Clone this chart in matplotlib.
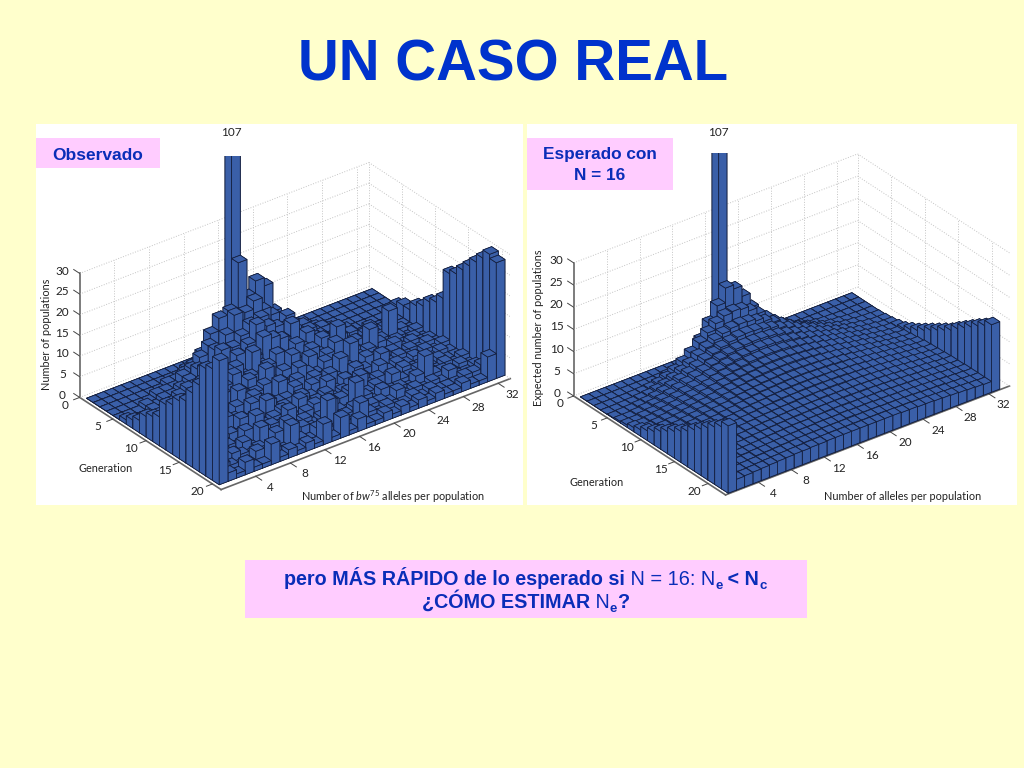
import matplotlib
matplotlib.use('Agg')
import matplotlib.pyplot as plt
from matplotlib.patches import Rectangle
from mpl_toolkits.mplot3d import proj3d

plt.rcParams['font.family'] = ['Lato', 'DejaVu Sans']
plt.rcParams['mathtext.fontset'] = 'custom'
plt.rcParams['mathtext.rm'] = 'Lato'
plt.rcParams['mathtext.it'] = 'Lato:italic'

# number of populations per allele count (columns 0-32), one row per generation
observed = [
    [0, 0, 0, 0, 0, 0, 0, 0, 0, 0, 0, 0, 0, 0, 0, 0, 107, 0, 0, 0, 0, 0, 0, 0, 0, 0, 0, 0, 0, 0, 0, 0, 0],
    [0, 0, 0, 0, 0, 0, 0, 0, 0, 0, 1, 1, 3, 6, 8, 11, 22, 13, 16, 14, 7, 3, 2, 0, 0, 0, 0, 0, 0, 0, 0, 0, 0],
    [0, 0, 0, 0, 0, 0, 0, 1, 1, 2, 3, 5, 9, 12, 9, 8, 11, 13, 10, 8, 6, 4, 3, 1, 1, 0, 0, 0, 0, 0, 0, 0, 0],
    [0, 0, 0, 0, 0, 1, 1, 1, 3, 4, 6, 8, 5, 9, 13, 7, 6, 10, 7, 5, 8, 5, 3, 2, 2, 1, 0, 0, 0, 0, 0, 0, 0],
    [0, 0, 0, 1, 0, 1, 1, 2, 3, 5, 4, 8, 6, 7, 9, 11, 6, 9, 8, 7, 5, 6, 3, 2, 2, 1, 1, 0, 0, 0, 0, 0, 2],
    [1, 0, 0, 1, 0, 1, 2, 3, 2, 6, 5, 9, 4, 6, 8, 12, 5, 7, 6, 9, 4, 6, 3, 2, 2, 2, 1, 0, 1, 0, 0, 0, 3],
    [2, 0, 1, 0, 1, 2, 2, 3, 5, 3, 7, 4, 8, 5, 6, 10, 9, 8, 5, 3, 7, 5, 4, 3, 2, 3, 1, 1, 0, 1, 0, 0, 3],
    [3, 1, 0, 1, 2, 1, 3, 2, 4, 6, 3, 7, 4, 9, 5, 3, 6, 4, 7, 5, 3, 6, 4, 5, 2, 2, 3, 1, 1, 0, 1, 0, 5],
    [5, 1, 1, 2, 1, 3, 2, 4, 3, 5, 7, 3, 5, 4, 6, 8, 3, 5, 3, 6, 4, 3, 9, 2, 4, 3, 1, 2, 8, 1, 0, 1, 6],
    [6, 2, 1, 1, 3, 2, 4, 2, 5, 3, 4, 6, 3, 7, 3, 5, 8, 2, 6, 3, 5, 7, 2, 4, 2, 7, 3, 1, 2, 0, 1, 0, 8],
    [7, 3, 2, 1, 2, 4, 1, 3, 2, 6, 3, 4, 5, 2, 4, 3, 6, 4, 3, 5, 3, 2, 7, 3, 4, 2, 1, 3, 1, 2, 1, 1, 9],
    [11, 2, 3, 1, 2, 3, 3, 1, 4, 2, 5, 3, 2, 6, 3, 5, 2, 4, 3, 2, 6, 3, 2, 4, 3, 2, 3, 1, 2, 1, 2, 1, 11],
    [12, 2, 1, 3, 2, 1, 4, 3, 2, 5, 2, 4, 3, 3, 5, 2, 4, 2, 5, 3, 2, 4, 3, 1, 5, 2, 3, 2, 1, 2, 1, 2, 18],
    [14, 3, 2, 1, 3, 2, 1, 4, 3, 2, 6, 2, 3, 1, 4, 3, 2, 5, 2, 4, 2, 3, 1, 4, 2, 3, 2, 3, 1, 1, 2, 1, 19],
    [15, 3, 1, 2, 2, 3, 2, 1, 5, 2, 3, 4, 2, 5, 1, 3, 4, 2, 3, 1, 5, 2, 3, 2, 1, 3, 2, 2, 1, 2, 1, 1, 21],
    [18, 2, 3, 1, 2, 1, 4, 2, 1, 3, 2, 5, 1, 3, 4, 2, 1, 3, 4, 2, 2, 3, 1, 4, 2, 2, 3, 2, 1, 2, 1, 2, 23],
    [21, 3, 2, 2, 1, 3, 1, 5, 2, 1, 4, 2, 3, 1, 2, 5, 2, 1, 7, 3, 1, 3, 2, 2, 1, 3, 7, 2, 2, 1, 2, 1, 25],
    [26, 2, 1, 3, 2, 1, 2, 1, 4, 2, 1, 3, 2, 1, 7, 1, 2, 3, 1, 2, 2, 1, 3, 1, 2, 1, 2, 1, 3, 1, 1, 2, 27],
    [27, 3, 2, 1, 1, 3, 1, 2, 1, 6, 2, 1, 3, 2, 1, 2, 1, 5, 2, 1, 2, 1, 1, 2, 1, 2, 1, 1, 1, 2, 2, 3, 29],
    [30, 2, 1, 3, 1, 1, 5, 1, 2, 1, 2, 1, 5, 1, 5, 1, 3, 1, 1, 2, 1, 2, 1, 2, 1, 2, 1, 1, 2, 1, 1, 6, 28],
]

expected = [
    [0, 0, 0, 0, 0, 0, 0, 0, 0, 0, 0, 0, 0, 0, 0, 0, 107, 0, 0, 0, 0, 0, 0, 0, 0, 0, 0, 0, 0, 0, 0, 0, 0],
    [0, 0, 0, 0, 0, 0, 0, 0, .1, .3, .7, 1.6, 3.1, 5.5, 8.6, 11.8, 15.1, 14.2, 11.8, 8.6, 5.5, 3.1, 1.6, .7, .3, .1, 0, 0, 0, 0, 0, 0, 0],
    [0, 0, 0, 0, .1, .2, .4, .8, 1.4, 2.3, 3.5, 4.9, 6.5, 8.1, 9.5, 10.5, 10.8, 10.5, 9.5, 8.1, 6.5, 4.9, 3.5, 2.3, 1.4, .8, .4, .2, .1, 0, 0, 0, 0],
    [0, 0, .1, .2, .4, .6, 1.0, 1.5, 2.2, 3.1, 4.1, 5.3, 6.4, 7.4, 8.2, 8.7, 8.9, 8.7, 8.2, 7.4, 6.4, 5.3, 4.1, 3.1, 2.2, 1.5, 1.0, .6, .4, .2, .1, 0, 0],
    [.1, .2, .3, .5, .7, 1.1, 1.6, 2.2, 2.9, 3.7, 4.5, 5.4, 6.1, 6.8, 7.3, 7.7, 7.8, 7.7, 7.3, 6.8, 6.1, 5.4, 4.5, 3.7, 2.9, 2.2, 1.6, 1.1, .7, .5, .3, .2, .1],
    [.3, .3, .5, .8, 1.1, 1.5, 2.0, 2.6, 3.2, 3.9, 4.5, 5.2, 5.8, 6.3, 6.7, 6.9, 7.0, 6.9, 6.7, 6.3, 5.8, 5.2, 4.5, 3.9, 3.2, 2.6, 2.0, 1.5, 1.1, .8, .5, .3, .3],
    [.5, .5, .8, 1.0, 1.4, 1.8, 2.3, 2.8, 3.3, 3.9, 4.5, 5.0, 5.5, 5.9, 6.2, 6.4, 6.5, 6.4, 6.2, 5.9, 5.5, 5.0, 4.5, 3.9, 3.3, 2.8, 2.3, 1.8, 1.4, 1.0, .8, .5, .5],
    [.9, .8, 1.0, 1.3, 1.6, 2.0, 2.5, 2.9, 3.4, 3.9, 4.4, 4.8, 5.2, 5.5, 5.8, 5.9, 6.0, 5.9, 5.8, 5.5, 5.2, 4.8, 4.4, 3.9, 3.4, 2.9, 2.5, 2.0, 1.6, 1.3, 1.0, .8, .9],
    [1.4, 1.0, 1.2, 1.5, 1.8, 2.2, 2.6, 3.0, 3.5, 3.9, 4.3, 4.7, 5.0, 5.2, 5.4, 5.6, 5.6, 5.6, 5.4, 5.2, 5.0, 4.7, 4.3, 3.9, 3.5, 3.0, 2.6, 2.2, 1.8, 1.5, 1.2, 1.0, 1.4],
    [2.2, 1.3, 1.5, 1.7, 2.0, 2.4, 2.8, 3.1, 3.5, 3.9, 4.2, 4.5, 4.8, 5.0, 5.2, 5.3, 5.3, 5.3, 5.2, 5.0, 4.8, 4.5, 4.2, 3.9, 3.5, 3.1, 2.8, 2.4, 2.0, 1.7, 1.5, 1.3, 2.2],
    [3.0, 1.5, 1.7, 1.9, 2.2, 2.5, 2.9, 3.2, 3.5, 3.9, 4.2, 4.4, 4.6, 4.8, 4.9, 5.0, 5.1, 5.0, 4.9, 4.8, 4.6, 4.4, 4.2, 3.9, 3.5, 3.2, 2.9, 2.5, 2.2, 1.9, 1.7, 1.5, 3.0],
    [4.0, 1.7, 1.9, 2.1, 2.4, 2.7, 3.0, 3.3, 3.5, 3.8, 4.1, 4.3, 4.5, 4.6, 4.7, 4.8, 4.8, 4.8, 4.7, 4.6, 4.5, 4.3, 4.1, 3.8, 3.5, 3.3, 3.0, 2.7, 2.4, 2.1, 1.9, 1.7, 4.0],
    [5.0, 1.9, 2.0, 2.3, 2.5, 2.8, 3.0, 3.3, 3.5, 3.8, 4.0, 4.1, 4.3, 4.4, 4.5, 4.6, 4.6, 4.6, 4.5, 4.4, 4.3, 4.1, 4.0, 3.8, 3.5, 3.3, 3.0, 2.8, 2.5, 2.3, 2.0, 1.9, 5.0],
    [6.0, 2.0, 2.2, 2.4, 2.6, 2.8, 3.1, 3.3, 3.5, 3.7, 3.9, 4.0, 4.2, 4.3, 4.3, 4.4, 4.4, 4.4, 4.3, 4.3, 4.2, 4.0, 3.9, 3.7, 3.5, 3.3, 3.1, 2.8, 2.6, 2.4, 2.2, 2.0, 6.0],
    [7.0, 2.1, 2.3, 2.5, 2.7, 2.9, 3.1, 3.3, 3.5, 3.6, 3.8, 3.9, 4.0, 4.1, 4.2, 4.2, 4.2, 4.2, 4.2, 4.1, 4.0, 3.9, 3.8, 3.6, 3.5, 3.3, 3.1, 2.9, 2.7, 2.5, 2.3, 2.1, 7.0],
    [8.0, 2.2, 2.4, 2.5, 2.7, 2.9, 3.1, 3.3, 3.4, 3.6, 3.7, 3.8, 3.9, 3.9, 4.0, 4.0, 4.1, 4.0, 4.0, 3.9, 3.9, 3.8, 3.7, 3.6, 3.4, 3.3, 3.1, 2.9, 2.7, 2.5, 2.4, 2.2, 8.0],
    [9.3, 2.3, 2.4, 2.6, 2.8, 2.9, 3.1, 3.2, 3.4, 3.5, 3.6, 3.7, 3.8, 3.8, 3.9, 3.9, 3.9, 3.9, 3.9, 3.8, 3.8, 3.7, 3.6, 3.5, 3.4, 3.2, 3.1, 2.9, 2.8, 2.6, 2.4, 2.3, 9.3],
    [10.5, 2.3, 2.5, 2.6, 2.8, 2.9, 3.0, 3.2, 3.3, 3.4, 3.5, 3.6, 3.6, 3.7, 3.7, 3.8, 3.8, 3.8, 3.7, 3.7, 3.6, 3.6, 3.5, 3.4, 3.3, 3.2, 3.0, 2.9, 2.8, 2.6, 2.5, 2.3, 10.5],
    [11.7, 2.4, 2.5, 2.6, 2.8, 2.9, 3.0, 3.1, 3.2, 3.3, 3.4, 3.5, 3.5, 3.6, 3.6, 3.6, 3.7, 3.6, 3.6, 3.6, 3.5, 3.5, 3.4, 3.3, 3.2, 3.1, 3.0, 2.9, 2.8, 2.6, 2.5, 2.4, 11.7],
    [12.9, 2.4, 2.5, 2.6, 2.7, 2.9, 3.0, 3.1, 3.2, 3.3, 3.3, 3.4, 3.4, 3.5, 3.5, 3.5, 3.6, 3.5, 3.5, 3.5, 3.4, 3.4, 3.3, 3.3, 3.2, 3.1, 3.0, 2.9, 2.7, 2.6, 2.5, 2.4, 12.9],
    [14.0, 2.4, 2.5, 2.6, 2.7, 2.8, 2.9, 3.0, 3.1, 3.2, 3.3, 3.3, 3.3, 3.4, 3.4, 3.4, 3.4, 3.4, 3.4, 3.4, 3.3, 3.3, 3.3, 3.2, 3.1, 3.0, 2.9, 2.8, 2.7, 2.6, 2.5, 2.4, 14.0],
    [15.2, 2.4, 2.5, 2.6, 2.7, 2.8, 2.9, 3.0, 3.1, 3.1, 3.2, 3.2, 3.3, 3.3, 3.3, 3.3, 3.3, 3.3, 3.3, 3.3, 3.3, 3.2, 3.2, 3.1, 3.1, 3.0, 2.9, 2.8, 2.7, 2.6, 2.5, 2.4, 15.2],
]

x_ticks = [4, 8, 12, 16, 20, 24, 28, 32]
y_ticks = [0, 5, 10, 15, 20]
z_ticks = [0, 5, 10, 15, 20, 25, 30]

bg = '#ffffcc'
box_col = '#ffccff'
title_col = '#0033cc'
text_col = '#0a2db8'
bar_col = '#3a5fa8'
edge_col = '#141e3c'
ink = '#222222'
grid_col = '#c4c4c4'

fig = plt.figure(figsize=(10.24, 7.68), dpi=100, facecolor=bg)


def fx(px):
    return px / 1024


def fy(py):
    return 1 - py / 768


def fig_box(x0, y0, x1, y1, color, z):
    fig.patches.append(Rectangle((fx(x0), fy(y1)), (x1 - x0) / 1024, (y1 - y0) / 768,
                                 transform=fig.transFigure, facecolor=color, edgecolor='none', zorder=z))


def tick_label(ax, x, y, z, value):
    # plain 2D text at the projected spot of a 3D point
    px, py, _ = proj3d.proj_transform(x, y, z, ax.get_proj())
    ax.text2D(px, py, str(value), transform=ax.transData, fontsize=8.5, color=ink, ha='center', va='center')


def draw_panel(table, left, top, size, aspect, clip_y, xmax, ymax):
    ax = fig.add_axes([fx(left), fy(top + size), size / 1024, size / 768],
                      projection='3d', computed_zorder=False)
    ax.set_facecolor('none')
    ax.set_proj_type('ortho')
    ax.view_init(elev=30, azim=-127.5)
    ax.set_box_aspect(aspect)

    # back to front so tall bars hide the right things
    order = 0
    for row in range(len(table)):
        for col in range(32, -1, -1):
            h = table[row][col]
            bar = ax.bar3d(col + 0.4, row + 0.5, 0, 1, 1, h, color=bar_col, shade=False,
                           edgecolor=edge_col, linewidth=0.55, zorder=order)
            order += 1
            if h > 30:
                bar.set_clip_path(Rectangle((0, 0), 1, 1 - clip_y / 768, transform=fig.transFigure))

    ax.set_xlim(0, xmax)
    ax.set_ylim(ymax, 0)
    ax.set_zlim(0, 30)
    ax.set_xticks([])
    ax.set_yticks([])
    ax.set_zticks([])
    for axis in (ax.xaxis, ax.yaxis, ax.zaxis):
        axis.pane.fill = False
        axis.pane.set_edgecolor('none')
        axis.line.set_color('#666666')
        axis.line.set_linewidth(1.2)

    # ticks, labels and wall grid by hand: the automatic labels land too far out
    wall = dict(color=grid_col, linestyle=':', linewidth=0.7, zorder=-1)
    tick = dict(color='#444444', linewidth=0.7, zorder=-1)
    for t in x_ticks:
        ax.plot([t, t], [0, 0], [0, 30], **wall)
        ax.plot([t, t], [ymax, ymax + 0.9], [0, 0], **tick)
        tick_label(ax, t, ymax + 2.2, -0.3, t)
    for t in y_ticks:
        ax.plot([xmax, xmax], [t, t], [0, 30], **wall)
        ax.plot([0, -0.7], [t, t], [0, 0], **tick)
        tick_label(ax, -1.7, t, -0.5, t)
    for t in z_ticks:
        ax.plot([0, xmax], [0, 0], [t, t], **wall)
        ax.plot([xmax, xmax], [0, ymax], [t, t], **wall)
        ax.plot([0, 0], [0, -0.9], [t, t], **tick)
        tick_label(ax, -1, -1.3, t, t)
    return ax


def text_run(x, baseline, pieces):
    # consecutive pieces of one line: text, weight, size, baseline shift
    renderer = fig.canvas.get_renderer()
    for s, weight, size, shift in pieces:
        t = fig.text(fx(x), fy(baseline + shift), s, family='Liberation Sans', weight=weight, fontsize=size,
                     color=text_col, ha='left', va='baseline', zorder=3)
        x = t.get_window_extent(renderer).x1


# white panels behind the two plots
fig_box(36, 124, 523, 505, 'white', -1)
fig_box(527, 124, 1017, 505, 'white', -1)

draw_panel(observed, 68, 111, 442, (364, 232, 143), 155.5, 33.4, 21.3)
draw_panel(expected, 561, 106, 449, (358.6, 250, 154), 152.5, 34.5, 22.6)

fig.text(fx(513), fy(65.5), 'UN CASO REAL', family='Liberation Sans', weight='bold', fontsize=40.7,
         color=title_col, ha='center', va='center')

fig.text(fx(231), fy(132), '107', fontsize=8.5, ha='center', va='center', color=ink)
fig.text(fx(718), fy(132), '107', fontsize=8.5, ha='center', va='center', color=ink)
fig.text(fx(47), fy(334), 'Number of populations', fontsize=7.85, rotation=90, ha='center', va='center', color=ink)
fig.text(fx(538), fy(327.5), 'Expected number of populations', fontsize=7.85, rotation=90, ha='center', va='center', color=ink)
fig.text(fx(106), fy(469), 'Generation', fontsize=7.85, ha='center', va='center', color=ink)
fig.text(fx(597), fy(482), 'Generation', fontsize=7.85, ha='center', va='center', color=ink)
fig.text(fx(393), fy(497), r'Number of $\mathit{bw}^{75}$ alleles per population', fontsize=7.85, ha='center', va='center', color=ink)
fig.text(fx(903), fy(496.5), 'Number of alleles per population', fontsize=7.85, ha='center', va='center', color=ink)

# pink callouts
fig_box(36, 138, 160, 168, box_col, 2)
fig_box(527, 138, 673, 190, box_col, 2)
fig_box(245, 560, 807, 618, box_col, 2)
fig.text(fx(98), fy(155), 'Observado', family='Liberation Sans', weight='bold', fontsize=12.5, color=text_col,
         ha='center', va='center', zorder=3)
fig.text(fx(600), fy(165), 'Esperado con\nN = 16', family='Liberation Sans', weight='bold', fontsize=12.4,
         color=text_col, ha='center', va='center', linespacing=1.45, zorder=3)

text_run(284, 585, [('pero MÁS RÁPIDO de lo esperado si', 'bold', 14.2, 0),
                    (' N = 16: N', 'normal', 14.4, 0),
                    ('e', 'bold', 9.5, 4),
                    (' < N', 'bold', 14.2, 0),
                    ('c', 'bold', 9.5, 4)])
text_run(422, 608, [('¿CÓMO ESTIMAR', 'bold', 14.2, 0),
                    (' N', 'normal', 14.2, 0),
                    ('e', 'bold', 9.5, 4),
                    ('?', 'bold', 14.2, 0)])

fig.savefig('out.png', dpi=100, facecolor=bg)
